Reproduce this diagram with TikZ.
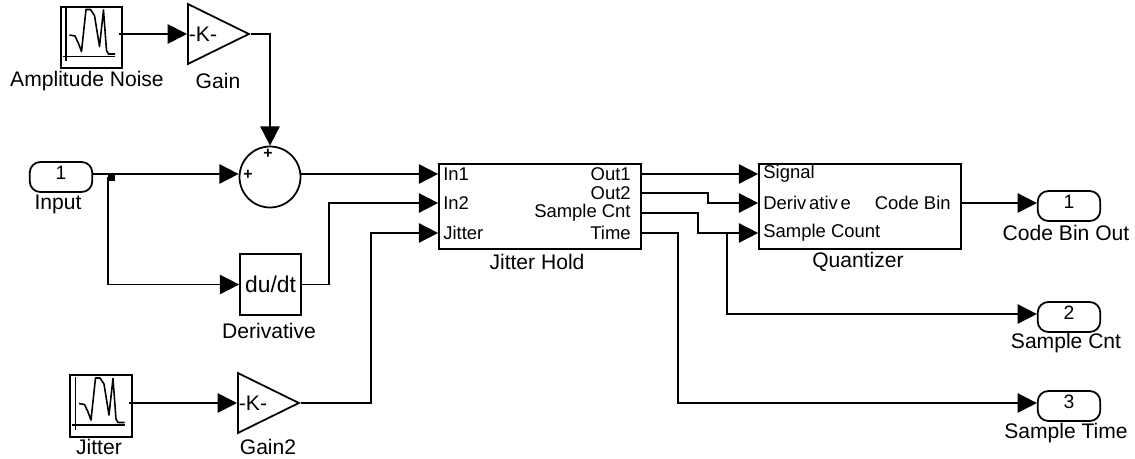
\documentclass[tikz,border=0pt]{standalone}
\usepackage{fontspec}
\setmainfont{Liberation Sans}
\usetikzlibrary{arrows.meta,shapes.geometric,positioning,calc}

\begin{document}
\begin{tikzpicture}[
    x=0.02cm, y=-0.02cm,
    every node/.style={font=\fontsize{10.5}{13}\selectfont},
    block/.style={
        draw=black,
        line width=1pt,
        inner sep=0pt
    },
    icon/.style={block, minimum width=1.23cm, minimum height=1.23cm},
    wave/.style={line width=0.9pt, line join=round},
    gainblock/.style={
        block,
        isosceles triangle,
        isosceles triangle stretches,
        shape border uses incircle=false,
        minimum width=1.2cm,
        minimum height=1.22cm,
        anchor=lower side
    },
    pill/.style={
        block,
        rounded corners=6pt,
        minimum width=1.25cm,
        minimum height=0.6cm,
        text height=8pt,
        text depth=5.6pt,
        font=\fontsize{11}{13}\selectfont
    },
    port/.style={inner sep=0pt},
    portin/.style={port, anchor=west},
    portout/.style={port, anchor=east},
    caption/.style={inner sep=0pt, font=\fontsize{12}{14}\selectfont},
    sign/.style={inner sep=0pt, font=\fontsize{9}{10}\selectfont\bfseries},
    dot/.style={fill=black, inner sep=0pt, minimum size=0.14cm},
    signal/.style={
        -{Triangle[length=11pt,width=11pt]},
        line width=1pt,
        draw=black
    }
]
    \useasboundingbox (0,0) rectangle (1135,459);

    % sources and gains
    \node[icon] (noise) at (91.5,37.5) {};
    \node[gainblock] (gain) at (187,34) {};
    \node[port, font=\fontsize{12}{14}\selectfont] (gaink) at (203,34) {-K-};
    \node[icon] (jit) at (101,406) {};
    \node[gainblock] (gaintwo) at (237,403) {};
    \node[port, font=\fontsize{12}{14}\selectfont] (gaintwok) at (253,403) {-K-};
    \foreach \name in {noise,jit} {
        \draw[wave, shift={(\name.center)}] (-25.5,-29.5) -- (-25.5,23.5);
        \draw[wave, shift={(\name.center)}] (-29,19) -- (23.5,19);
        \draw[wave, shift={(\name.center)}] (-22,-2.5) -- (-16.5,-1.5) -- (-13,6) -- (-10,14) -- (-5.5,-28)
            -- (-1,-28) -- (3,-22) -- (8,9) -- (12,-27.5) -- (15,13) -- (17,16.5) -- (23.5,16.5);
    }

    % input and sum
    \node[pill] (input) at (61,177) {1};
    \node[dot] (split) at (111.5,177.5) {};
    \node[block, circle, minimum size=1.22cm] (sum) at (270,177) {};
    \node[sign] (sumtop) at (268,154) {+};
    \node[sign] (sumleft) at (248,175) {+};
    \node[block, minimum width=1.22cm, minimum height=1.22cm, font=\fontsize{13}{15}\selectfont] (deriv) at (270.5,284.5) {du/dt};

    % jitter hold
    \node[block, minimum width=4.04cm, minimum height=1.7cm] (hold) at (540,206.5) {};
    \node[portin] (holdin) at (443,174) {In1};
    \node[portin] (holdintwo) at (443,203) {In2};
    \node[portin] (holdjit) at (443,233) {Jitter};
    \node[portout] (holdout) at (631,174) {Out1};
    \node[portout] (holdouttwo) at (631,193) {Out2};
    \node[portout] (holdcnt) at (631,213) {Sample Cnt};
    \node[portout] (holdtime) at (631,233) {Time};

    % quantizer
    \node[block, minimum width=4.04cm, minimum height=1.7cm] (quant) at (860,206.5) {};
    \node[portin] (quantsig) at (763,174) {Signal};
    \node[portin] (quantder) at (763,203) {Deriv\kern1.6pt ativ\kern1.6pt e};
    \node[portin] (quantcnt) at (763,233) {Sample Count};
    \node[portout] (quantbin) at (951,203) {Code Bin};

    % outputs
    \node[pill] (binout) at (1069,206) {1};
    \node[pill] (cntout) at (1069,317) {2};
    \node[pill] (timeout) at (1069,406) {3};

    % captions
    \node[caption] (capnoise) at (87,81) {Amplitude Noise};
    \node[caption] (capgain) at (218,81) {Gain};
    \node[caption] (capinput) at (58,204) {Input};
    \node[caption] (capderiv) at (269,331) {Derivative};
    \node[caption] (capjit) at (99,447) {Jitter};
    \node[caption] (capgaintwo) at (268,447) {Gain2};
    \node[caption] (caphold) at (537,262) {Jitter Hold};
    \node[caption] (capquant) at (858,262) {Quantizer};
    \node[caption] (capbin) at (1066,233) {Code Bin Out};
    \node[caption] (capcnt) at (1066,343) {Sample Cnt};
    \node[caption] (captime) at (1066,433) {Sample Time};

    % connectors
    \coordinate (branch) at (727,233);
    \draw[signal] ([xshift=-2.3pt]noise.east |- gain.lower side) -- (gain.lower side);
    \draw[signal] (gain.apex) -| (sum.north);
    \draw[signal] ([yshift=1.7pt]input.east) -- (sum.west |- holdin);
    \draw[signal] (sum.east |- holdin) -- (hold.west |- holdin);
    \draw[signal] (split.west) |- (deriv.west);
    \draw[signal] (deriv.east) -- ++(27,0) |- (hold.west |- holdintwo);
    \draw[signal] ([xshift=-2.3pt]jit.east |- gaintwo.lower side) -- (gaintwo.lower side);
    \draw[signal] (gaintwo.apex) -- ++(70,0) |- (hold.west |- holdjit);
    \draw[signal] (hold.east |- holdout) -- (quant.west |- holdout);
    \draw[signal] (hold.east |- holdouttwo) -- ++(66,0) |- (quant.west |- quantder);
    \draw[signal] (hold.east |- holdcnt) -- ++(56,0) |- (quant.west |- quantcnt);
    \draw[signal] (branch) |- ([yshift=1.7pt]cntout.west);
    \draw[signal] (hold.east |- holdtime) -- ++(36,0) |- ([yshift=1.7pt]timeout.west);
    \draw[signal] (quant.east |- quantbin) -- ([yshift=1.7pt]binout.west);
\end{tikzpicture}
\end{document}
